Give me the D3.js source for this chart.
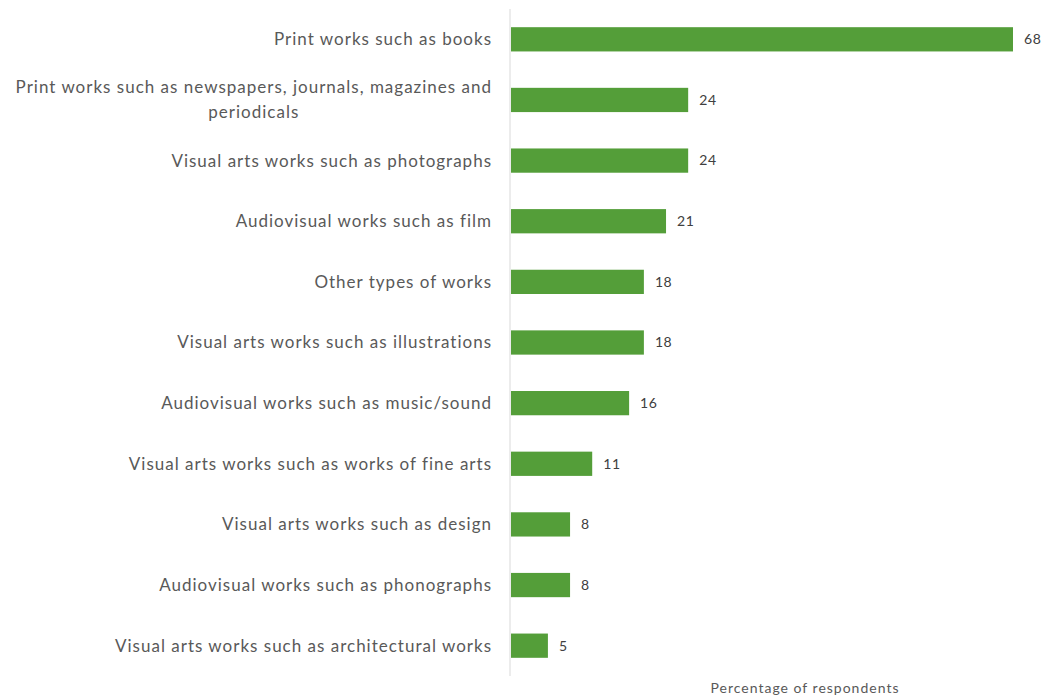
<!DOCTYPE html>
<html>
<head>
<meta charset="utf-8">
<script src="https://cdn.jsdelivr.net/npm/d3@7"></script>
<style>
  body { margin: 0; background: #fff; }
  svg { display: block; }
</style>
</head>
<body>
<svg id="chart" width="1045" height="696"></svg>
<script>
// Types of works, top to bottom
const categories = [
  "Print works such as books",
  "Print works such as newspapers, journals, magazines and periodicals",
  "Visual arts works such as photographs",
  "Audiovisual works such as film",
  "Other types of works",
  "Visual arts works such as illustrations",
  "Audiovisual works such as music/sound",
  "Visual arts works such as works of fine arts",
  "Visual arts works such as design",
  "Audiovisual works such as phonographs",
  "Visual arts works such as architectural works"
];
// Percentage of respondents
const values = [68, 24, 24, 21, 18, 18, 16, 11, 8, 8, 5];
const axisTitle = "Percentage of respondents";

const svg = d3.select("#chart");
const fontFamily = "Lato, 'Open Sans', sans-serif";

const x = d3.scaleLinear().domain([0, 68]).range([511, 1013]);
const y = d3.scaleBand()
  .domain(categories)
  .range([9, 676])
  .paddingInner(0.6)
  .paddingOuter(0.3);

// Bars
svg.append("g").selectAll("rect")
  .data(values)
  .join("rect")
  .attr("x", x(0))
  .attr("y", (d, i) => y(categories[i]))
  .attr("width", d => x(d) - x(0))
  .attr("height", y.bandwidth())
  .attr("fill", "#549e39");

// Vertical category axis line
svg.append("line")
  .attr("x1", 510).attr("x2", 510)
  .attr("y1", 9).attr("y2", 676)
  .attr("stroke", "#d9d9d9")
  .attr("stroke-width", 1);

// Value labels
svg.append("g").selectAll("text")
  .data(values)
  .join("text")
  .attr("x", d => x(d) + 11)
  .attr("y", (d, i) => y(categories[i]) + y.bandwidth() / 2)
  .attr("dy", "0.35em")
  .attr("font-family", fontFamily)
  .attr("font-size", 14)
  .attr("letter-spacing", 0.6)
  .attr("fill", "#404040")
  .text(d => d);

// Category labels, wrapped to fit the left margin
const maxWidth = 492;
const lineHeight = 25;
const labels = svg.append("g")
  .attr("font-family", fontFamily)
  .attr("font-size", 17)
  .attr("letter-spacing", 1)
  .attr("fill", "#595959")
  .attr("text-anchor", "end");

categories.forEach(cat => {
  const t = labels.append("text");
  const words = cat.split(" ");
  const lines = [];
  let line = [];
  const probe = labels.append("text");
  words.forEach(w => {
    const trial = line.concat([w]).join(" ");
    probe.text(trial);
    if (line.length && probe.node().getComputedTextLength() > maxWidth) {
      lines.push(line.join(" "));
      line = [w];
    } else {
      line.push(w);
    }
  });
  lines.push(line.join(" "));
  probe.remove();
  const cy = y(cat) + y.bandwidth() / 2;
  const startY = cy - (lines.length - 1) * lineHeight / 2;
  lines.forEach((l, k) => {
    const tspan = t.append("tspan")
      .attr("y", startY + k * lineHeight)
      .attr("dy", "0.35em")
      .text(l);
    if (k === 0) tspan.attr("x", 492);
  });
  // the further lines of a wrapped label are centred under the first
  if (lines.length > 1) {
    const w0 = t.select("tspan").node().getComputedTextLength();
    t.selectAll("tspan").filter((d, k) => k > 0)
      .attr("text-anchor", "middle")
      .attr("x", 492 - w0 / 2);
  }
});

// Axis title
svg.append("text")
  .attr("x", 805)
  .attr("y", 693)
  .attr("text-anchor", "middle")
  .attr("font-family", fontFamily)
  .attr("font-size", 14)
  .attr("letter-spacing", 1)
  .attr("fill", "#595959")
  .text(axisTitle);
</script>
</body>
</html>
